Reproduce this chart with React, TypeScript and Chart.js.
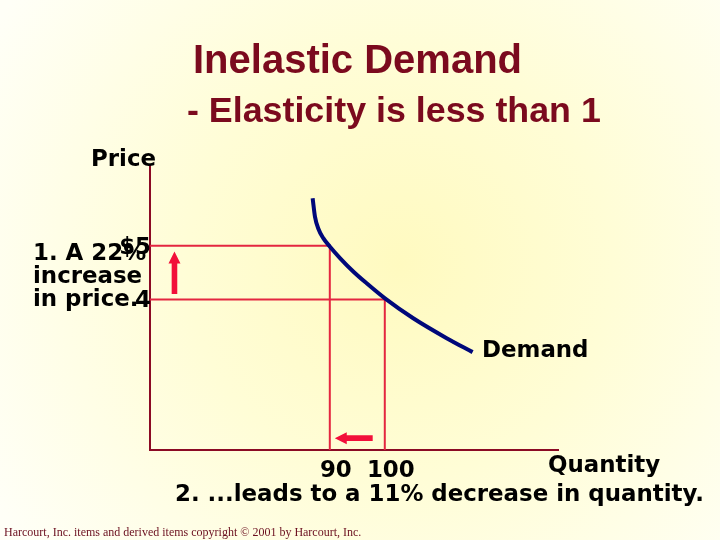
import { useEffect, useRef } from "react";
import { Chart, registerables } from "chart.js";

Chart.register(...registerables);

// ---- data ----
const quantityLevels = [90, 100];
const quantityTickLabels = ["90", "100"];
const priceLevels = [5, 4];
const priceTickLabels = ["$5", "4"];
const demandQuantity = [86.88, 87.3, 87.9, 88.81, 90.03, 91.85, 94.26, 96.7, 100.03, 105.17, 111.25, 115.97];
const demandPrice = [5.88, 5.54, 5.32, 5.14, 4.98, 4.77, 4.52, 4.3, 4.02, 3.65, 3.28, 3.02];
const xRange = [57.3, 131.5];
const yRange = [1.2, 6.5];
const priceArrow = [61.75, 4.1, 4.89]; // at quantity, from price, to price
const quantityArrow = [1.42, 97.8, 90.9]; // at price, from quantity, to quantity

const titleText = "Inelastic Demand";
const subtitleText = "- Elasticity is less than 1";
const yAxisTitle = "Price";
const xAxisTitle = "Quantity";
const demandLabel = "Demand";
const noteLines = ["1. A 22%", "increase", "in price."];
const bottomNote = "2. ...leads to a 11% decrease in quantity.";
const footerText = "Harcourt, Inc. items and derived items copyright \u00A9 2001 by Harcourt, Inc.";

const BODY_FONT = "bold 22.9px 'DejaVu Sans'";
const AXIS_COLOR = "#8B0A24";
const GUIDE_COLOR = "#E42640";
const ARROW_COLOR = "#F2103A";

function drawArrow(ctx: CanvasRenderingContext2D, x1: number, y1: number, x2: number, y2: number) {
  const ang = Math.atan2(y2 - y1, x2 - x1);
  const len = Math.hypot(x2 - x1, y2 - y1);
  const head = 12;
  const halfHead = 6;
  const halfShaft = 2.8;
  ctx.save();
  ctx.translate(x1, y1);
  ctx.rotate(ang);
  ctx.fillStyle = ARROW_COLOR;
  ctx.beginPath();
  ctx.moveTo(0, -halfShaft);
  ctx.lineTo(len - head, -halfShaft);
  ctx.lineTo(len - head, -halfHead);
  ctx.lineTo(len, 0);
  ctx.lineTo(len - head, halfHead);
  ctx.lineTo(len - head, halfShaft);
  ctx.lineTo(0, halfShaft);
  ctx.closePath();
  ctx.fill();
  ctx.restore();
}

const backgroundPlugin = {
  id: "slideBackground",
  beforeDraw(chart: any) {
    const ctx = chart.ctx as CanvasRenderingContext2D;
    const w = chart.width;
    const h = chart.height;
    const g = ctx.createRadialGradient(400, 265, 0, 400, 265, 470);
    g.addColorStop(0, "#FFFAC0");
    g.addColorStop(0.45, "#FFFDD6");
    g.addColorStop(1, "#FFFFF7");
    ctx.save();
    ctx.fillStyle = g;
    ctx.fillRect(0, 0, w, h);
    ctx.restore();
  },
};

const annotationPlugin = {
  id: "slideAnnotations",
  afterDatasetsDraw(chart: any) {
    const ctx = chart.ctx as CanvasRenderingContext2D;
    const xs = chart.scales.x;
    const ys = chart.scales.y;
    drawArrow(
      ctx,
      xs.getPixelForValue(priceArrow[0]),
      ys.getPixelForValue(priceArrow[1]),
      xs.getPixelForValue(priceArrow[0]),
      ys.getPixelForValue(priceArrow[2])
    );
    drawArrow(
      ctx,
      xs.getPixelForValue(quantityArrow[1]),
      ys.getPixelForValue(quantityArrow[0]),
      xs.getPixelForValue(quantityArrow[2]),
      ys.getPixelForValue(quantityArrow[0])
    );
  },
  afterDraw(chart: any) {
    const ctx = chart.ctx as CanvasRenderingContext2D;
    ctx.save();
    ctx.textBaseline = "alphabetic";
    ctx.textAlign = "left";
    ctx.fillStyle = "#7B0A1E";
    ctx.font = "bold 40px 'Liberation Sans'";
    ctx.fillText(titleText, 193, 73);
    ctx.font = "bold 35.8px 'Liberation Sans'";
    ctx.fillText(subtitleText, 187, 122);

    ctx.fillStyle = "#000000";
    ctx.font = BODY_FONT;
    ctx.fillText(yAxisTitle, 91, 166);
    noteLines.forEach((t, i) => ctx.fillText(t, 33, 260 + i * 23));
    ctx.fillText(demandLabel, 482, 357);
    ctx.fillText(xAxisTitle, 548, 472);
    ctx.fillText(bottomNote, 175, 501);

    ctx.fillStyle = "#6B0F1F";
    ctx.font = "12px 'Liberation Serif'";
    ctx.fillText(footerText, 4, 536);
    ctx.restore();
  },
};

export default function App() {
  const ref = useRef<HTMLCanvasElement | null>(null);

  useEffect(() => {
    if (!ref.current) return;
    const guide = (q: number, p: number) => [
      { x: xRange[0], y: p },
      { x: q, y: p },
      { x: q, y: yRange[0] },
    ];
    const chart = new Chart(ref.current, {
      type: "line",
      data: {
        datasets: [
          {
            label: demandLabel,
            data: demandQuantity.map((q, i) => ({ x: q, y: demandPrice[i] })),
            borderColor: "#00087A",
            borderWidth: 4,
            pointRadius: 0,
            cubicInterpolationMode: "monotone",
            fill: false,
          },
          ...quantityLevels.map((q, i) => ({
            label: "guide" + i,
            data: guide(q, priceLevels[i]),
            borderColor: GUIDE_COLOR,
            borderWidth: 2,
            pointRadius: 0,
            tension: 0,
            fill: false,
          })),
        ],
      },
      options: {
        responsive: false,
        animation: false,
        devicePixelRatio: 1,
        layout: { padding: { left: 120, right: 162, top: 165, bottom: 50 } },
        plugins: {
          legend: { display: false },
          tooltip: { enabled: false },
          title: { display: false },
        },
        scales: {
          x: {
            type: "linear",
            min: xRange[0],
            max: xRange[1],
            grid: { display: false, drawTicks: false },
            border: { display: true, color: AXIS_COLOR, width: 2 },
            afterBuildTicks: (axis: any) => {
              axis.ticks = quantityLevels.map((v) => ({ value: v }));
            },
            afterFit: (axis: any) => {
              axis.height = 40;
            },
            ticks: {
              autoSkip: false,
              maxRotation: 0,
              color: "#000",
              font: { family: "'DejaVu Sans'", size: 22.9, weight: "bold" },
              padding: 7,
              labelOffset: 6,
              callback: (v: any) => {
                const i = quantityLevels.indexOf(Number(v));
                return i >= 0 ? quantityTickLabels[i] : "";
              },
            },
          },
          y: {
            type: "linear",
            min: yRange[0],
            max: yRange[1],
            grid: { display: false, drawTicks: false },
            border: { display: true, color: AXIS_COLOR, width: 2 },
            afterBuildTicks: (axis: any) => {
              axis.ticks = priceLevels.map((v) => ({ value: v }));
            },
            afterFit: (axis: any) => {
              axis.width = 30;
            },
            ticks: {
              autoSkip: false,
              color: "#000",
              font: { family: "'DejaVu Sans'", size: 22.9, weight: "bold" },
              padding: -1,
              labelOffset: 2,
              callback: (v: any) => {
                const i = priceLevels.indexOf(Number(v));
                return i >= 0 ? priceTickLabels[i] : "";
              },
            },
          },
        },
      },
      plugins: [backgroundPlugin, annotationPlugin],
    } as any);
    return () => chart.destroy();
  }, []);

  return (
    <div style={{ position: "fixed", left: 0, top: 0, width: 720, height: 540 }}>
      <canvas ref={ref} width={720} height={540} style={{ display: "block" }} />
    </div>
  );
}
